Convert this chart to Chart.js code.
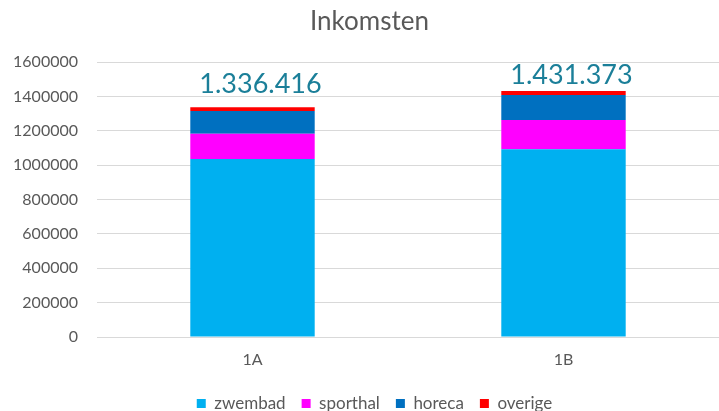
<!DOCTYPE html>
<html>
<head>
<meta charset="utf-8">
<script src="https://cdn.jsdelivr.net/npm/chart.js@4"></script>
<style>
  html, body { margin: 0; padding: 0; background: #fff; }
  #wrap { width: 719px; height: 411px; }
</style>
</head>
<body>
<div id="wrap"><canvas id="chart"></canvas></div>
<script>
// data
const categories = ['1A', '1B'];
const zwembad = [1035000, 1092000];
const sporthal = [147500, 170500];
const horeca = [132500, 145500];
const overige = [21416, 23373];
const totalLabels = ['1.336.416', '1.431.373'];
const yTicks = [0, 200000, 400000, 600000, 800000, 1000000, 1200000, 1400000, 1600000];

const grey = '#595959';
const gridColor = '#d9d9d9';

// draws the total above each stacked bar, like the excel data labels
const totalsPlugin = {
  id: 'totals',
  afterLayout(chart, args, opts) {
    // excel centres title and legend a bit right of the canvas middle
    chart.titleBlock.left += opts.titleShift;
    chart.titleBlock.right += opts.titleShift;
    chart.legend.left += opts.legendShift;
    chart.legend.right += opts.legendShift;
  },
  afterDatasetsDraw(chart, args, opts) {
    const ctx = chart.ctx;
    const y = chart.scales.y;
    const lastMeta = chart.getDatasetMeta(chart.data.datasets.length - 1);
    ctx.save();
    ctx.font = '27px Lato';
    ctx.fillStyle = '#1b7f99';
    ctx.textAlign = 'center';
    ctx.textBaseline = 'alphabetic';
    categories.forEach((c, i) => {
      let total = 0;
      chart.data.datasets.forEach(ds => { total += ds.data[i]; });
      const bar = lastMeta.data[i];
      const top = y.getPixelForValue(total);
      ctx.fillText(totalLabels[i], bar.x + 8, top - opts.gaps[i]);
    });
    ctx.restore();
  }
};

new Chart(document.getElementById('chart'), {
  type: 'bar',
  data: {
    labels: categories,
    datasets: [
      { label: 'zwembad', data: zwembad, backgroundColor: '#00b0f0' },
      { label: 'sporthal', data: sporthal, backgroundColor: '#ff00ff' },
      { label: 'horeca', data: horeca, backgroundColor: '#0070c0' },
      { label: 'overige', data: overige, backgroundColor: '#ff0000' }
    ]
  },
  options: {
    responsive: true,
    maintainAspectRatio: false,
    animation: false,
    layout: { padding: { left: 0, right: 0, top: 0, bottom: -11 } },
    datasets: { bar: { categoryPercentage: 1, barPercentage: 0.4, borderWidth: 0 } },
    plugins: {
      title: {
        display: true,
        text: 'Inkomsten',
        color: grey,
        font: { family: 'Lato', size: 26, weight: 'normal' },
        padding: { top: 6, bottom: 24.8 }
      },
      legend: {
        position: 'bottom',
        labels: {
          color: grey,
          font: { family: 'Lato', size: 17 },
          boxWidth: 9,
          boxHeight: 9,
          padding: 16
        }
      },
      tooltip: { enabled: false },
      totals: { gaps: [14, 7], titleShift: 10, legendShift: 15 }
    },
    scales: {
      x: {
        stacked: true,
        grid: { display: false, drawTicks: false },
        border: { color: gridColor },
        ticks: { color: grey, font: { family: 'Lato', size: 16 }, padding: 13 },
        afterFit(scale) { scale.height = 42; }
      },
      y: {
        stacked: true,
        min: 0,
        max: 1600000,
        grid: { color: gridColor, drawTicks: false },
        border: { display: false },
        afterBuildTicks(scale) { scale.ticks = yTicks.map(v => ({ value: v })); },
        ticks: {
          color: grey,
          font: { family: 'Lato', size: 16 },
          padding: 19,
          callback: v => String(v)
        },
        afterFit(scale) { scale.width = 97; }
      }
    }
  },
  plugins: [totalsPlugin]
});
</script>
</body>
</html>
